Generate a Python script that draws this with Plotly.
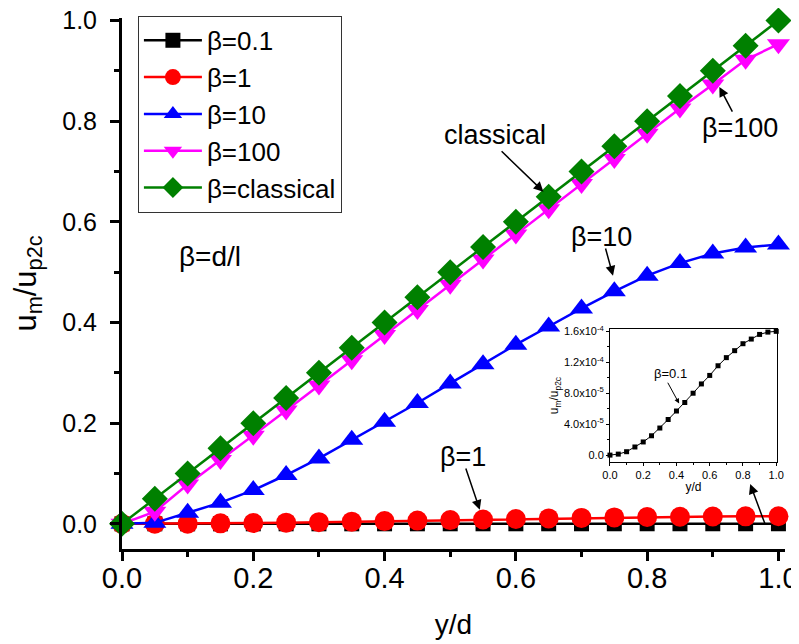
import plotly.graph_objects as go

# ---- data ----
x_yd = [0.0, 0.05, 0.10, 0.15, 0.20, 0.25, 0.30, 0.35, 0.40, 0.45, 0.50,
        0.55, 0.60, 0.65, 0.70, 0.75, 0.80, 0.85, 0.90, 0.95, 1.0]

beta_01 = [0.0, 0.13e-5, 0.44e-5, 1.05e-5, 1.7e-5, 2.5e-5, 3.5e-5, 4.6e-5, 5.7e-5, 6.8e-5, 8.0e-5,
           9.2e-5, 10.3e-5, 11.55e-5, 12.6e-5, 13.5e-5, 14.4e-5, 15.0e-5, 15.6e-5, 15.9e-5, 16.0e-5]

beta_1 = [0.0, 0.0001, 0.0004, 0.0010, 0.0016, 0.0023, 0.0033, 0.0043, 0.0054, 0.0064, 0.0075,
          0.0086, 0.0097, 0.0108, 0.0118, 0.0127, 0.0135, 0.0141, 0.0146, 0.0149, 0.0150]

beta_10 = [0.0, 0.002, 0.022, 0.042, 0.067, 0.097, 0.130, 0.167, 0.203, 0.240, 0.279,
           0.317, 0.356, 0.392, 0.428, 0.462, 0.493, 0.518, 0.537, 0.549, 0.555]

beta_100 = [0.0, 0.024, 0.078, 0.127, 0.175, 0.225, 0.275, 0.325, 0.375, 0.425, 0.475,
            0.525, 0.575, 0.625, 0.675, 0.725, 0.775, 0.825, 0.873, 0.922, 0.953]

classical = [0.0, 0.05, 0.10, 0.15, 0.20, 0.25, 0.30, 0.35, 0.40, 0.45, 0.50,
             0.55, 0.60, 0.65, 0.70, 0.75, 0.80, 0.85, 0.90, 0.95, 1.0]

main_xticks = [0.0, 0.2, 0.4, 0.6, 0.8, 1.0]
main_yticks = [0.0, 0.2, 0.4, 0.6, 0.8, 1.0]
tick_text = ["0.0", "0.2", "0.4", "0.6", "0.8", "1.0"]
inset_yticks = [0.0, 4.0e-5, 8.0e-5, 1.2e-4, 1.6e-4]
inset_yticktext = ["0.0", "4.0x10<sup>-5</sup>", "8.0x10<sup>-5</sup>",
                   "1.2x10<sup>-4</sup>", "1.6x10<sup>-4</sup>"]

FONT = "Liberation Sans, Arial, sans-serif"

fig = go.Figure()

series = [
    ("β=0.1", beta_01, "#000000", "square", 15),
    ("β=1", beta_1, "#FF0000", "circle", 20),
    ("β=10", beta_10, "#0000FF", "triangle-up", 20),
    ("β=100", beta_100, "#FF00FF", "triangle-down", 20),
    ("β=classical", classical, "#008000", "diamond", 20),
]
for i, (name, ys, col, sym, sz) in enumerate(series):
    fig.add_trace(go.Scatter(
        x=x_yd, y=ys, name=name, mode="lines+markers",
        line=dict(color=col, width=2.5),
        marker=dict(color=col, symbol=sym, size=sz, line=dict(width=0)),
        cliponaxis=False, legendgroup=f"g{i}",
        xaxis="x", yaxis="y",
    ))

# inset
fig.add_trace(go.Scatter(
    x=x_yd, y=beta_01, mode="lines+markers", showlegend=False,
    line=dict(color="#000000", width=1),
    marker=dict(color="#000000", symbol="square", size=5),
    cliponaxis=False, xaxis="x2", yaxis="y2",
))

axis_common = dict(showline=True, linecolor="black", linewidth=3, ticks="outside",
                   tickcolor="black", tickwidth=3, ticklen=9, showgrid=False,
                   zeroline=False, ticklabeloverflow="allow")

fig.update_layout(
    width=791, height=636,
    margin=dict(l=114, r=14, t=10, b=95, autoexpand=False),
    paper_bgcolor="white", plot_bgcolor="white",
    font=dict(family=FONT, color="black"),
    xaxis=dict(range=[0, 1.01], tickvals=main_xticks, ticktext=tick_text,
               minor=dict(dtick=0.1, ticks="outside", ticklen=5, tickwidth=3, tickcolor="black"),
               title=dict(text="y/d", font=dict(family=FONT, size=28), standoff=22),
               tickfont=dict(family=FONT, size=29, color="black"),
               ticklabelstandoff=-8,
               **axis_common),
    yaxis=dict(range=[-0.05, 1.005], tickvals=main_yticks, ticktext=tick_text,
               minor=dict(dtick=0.1, ticks="outside", ticklen=5, tickwidth=3, tickcolor="black"),
               title=dict(text="u<sub>m</sub>/u<sub>p2c</sub>", font=dict(family=FONT, size=31), standoff=24),
               tickfont=dict(family=FONT, size=25, color="black"),
               ticklabelstandoff=8,
               **axis_common),
    xaxis2=dict(domain=[0.736, 0.988], anchor="y2", range=[0, 1.005],
                tickvals=[0.0, 0.2, 0.4, 0.6, 0.8, 1.0], ticktext=tick_text,
                showline=True, mirror=True, linecolor="black", linewidth=1,
                ticks="outside", ticklen=3, tickwidth=1, tickcolor="black",
                minor=dict(dtick=0.1, ticks="outside", ticklen=2, tickwidth=1, tickcolor="black"),
                showgrid=False, zeroline=False,
                tickfont=dict(family=FONT, size=11, color="black"),
                title=dict(text="y/d", font=dict(family=FONT, size=12), standoff=2)),
    yaxis2=dict(domain=[0.164, 0.414], anchor="x2", range=[-0.088e-4, 1.628e-4],
                tickvals=inset_yticks, ticktext=inset_yticktext,
                showline=True, mirror=True, linecolor="black", linewidth=1,
                ticks="outside", ticklen=3, tickwidth=1, tickcolor="black",
                minor=dict(dtick=2e-5, ticks="outside", ticklen=2, tickwidth=1, tickcolor="black"),
                showgrid=False, zeroline=False,
                tickfont=dict(family=FONT, size=11, color="black"),
                title=dict(text="u<sub>m</sub>/u<sub>p2c</sub>", font=dict(family=FONT, size=12), standoff=2)),
    legend=dict(x=0.024, y=1.004, xanchor="left", yanchor="top",
                bgcolor="white", bordercolor="#333333", borderwidth=1,
                font=dict(family=FONT, size=26, color="black"),
                traceorder="grouped", tracegroupgap=0, itemwidth=58),
    showlegend=True,
)

# text labels
texts = [
    ("classical", 0.568, 0.773, 27),
    ("β=100", 0.941, 0.787, 27),
    ("β=10", 0.731, 0.570, 27),
    ("β=1", 0.520, 0.133, 27),
    ("β=d/l", 0.134, 0.531, 28),
]
for t, tx, ty, fs in texts:
    fig.add_annotation(x=tx, y=ty, xref="x", yref="y", text=t, showarrow=False,
                       font=dict(family=FONT, size=fs, color="black"))

# arrows (tail -> tip)
arrows = [
    (0.576, 0.743, 0.642, 0.660),
    (0.931, 0.816, 0.910, 0.868),
    (0.736, 0.550, 0.748, 0.493),
    (0.523, 0.113, 0.545, 0.028),
    (0.980, -0.002, 0.957, 0.079),
]
for ax_, ay_, x_, y_ in arrows:
    fig.add_annotation(x=x_, y=y_, ax=ax_, ay=ay_, xref="x", yref="y", axref="x", ayref="y",
                       text="", showarrow=True, arrowhead=2, arrowsize=1.3, arrowwidth=1.5,
                       arrowcolor="black")

# inset annotation
fig.add_annotation(x=0.367, y=1.06e-4, xref="x2", yref="y2", text="β=0.1", showarrow=False,
                   font=dict(family=FONT, size=13, color="black"))
fig.add_annotation(x=0.416, y=0.667e-4, ax=0.343, ay=0.955e-4, xref="x2", yref="y2",
                   axref="x2", ayref="y2", text="", showarrow=True, arrowhead=2,
                   arrowsize=1, arrowwidth=1, arrowcolor="black")

fig.write_html("out.html")
